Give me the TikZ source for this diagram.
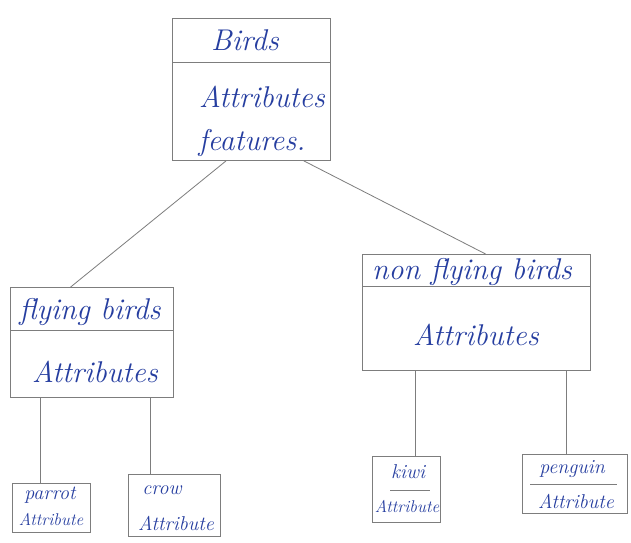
\documentclass[tikz,border=0pt]{standalone}
\usetikzlibrary{calc}
\definecolor{ink}{RGB}{38,62,160}
\definecolor{pencil}{RGB}{125,125,125}
\begin{document}
\begin{tikzpicture}[x=1pt,y=-1pt,
  box/.style={draw=pencil, line width=0.9pt, inner sep=0pt, anchor=north west},
  conn/.style={draw=pencil, line width=0.8pt},
  big/.style={text=ink, font=\fontsize{30}{34}\selectfont\itshape, inner sep=0pt},
  mid/.style={text=ink, font=\fontsize{30}{34}\selectfont\itshape, inner sep=0pt},
  small/.style={text=ink, font=\fontsize{20}{24}\selectfont\itshape, inner sep=0pt},
  tiny/.style={text=ink, font=\fontsize{17}{20}\selectfont\itshape, inner sep=0pt}]
\useasboundingbox[fill=white] (0,0) rectangle (631,542);

% top box
\node[box, minimum width=158pt, minimum height=142pt] (birds) at (172,18) {};
\draw[conn] (birds.west |- 0,62) -- (birds.east |- 0,62);
\node[big] (tb1) at (245,40) {Birds};
\node[big] (tb2) at (262,97) {Attributes};
\node[big] (tb3) at (252,143) {features.};

% flying birds
\node[box, minimum width=163pt, minimum height=110pt] (fly) at (10,287) {};
\draw[conn] (fly.west |- 0,330) -- (fly.east |- 0,330);
\node[mid] (tf1) at (90,312) {flying birds};
\node[mid] (tf2) at (95,372) {Attributes};

% non flying birds
\node[box, minimum width=228pt, minimum height=116pt] (non) at (362,254) {};
\draw[conn] (non.west |- 0,286) -- (non.east |- 0,286);
\node[mid] (tn1) at (472,272) {non flying birds};
\node[mid] (tn2) at (476,335) {Attributes};

% leaf boxes
\node[box, minimum width=78pt, minimum height=49pt] (parrot) at (12,483) {};
\node[small] (tp1) at (50,495) {parrot};
\node[tiny] (tp2) at (51,520) {Attribute};

\node[box, minimum width=92pt, minimum height=62pt] (crow) at (128,474) {};
\node[small] (tc1) at (162,490) {crow};
\node[small] (tc2) at (176,523) {Attribute};

\node[box, minimum width=68pt, minimum height=66pt] (kiwi) at (372,456) {};
\node[small] (tk1) at (408,472) {kiwi};
\draw[conn] (390,490) -- (430,490);
\node[tiny] (tk2) at (407,507) {Attribute};

\node[box, minimum width=105pt, minimum height=59pt] (peng) at (522,454) {};
\node[small] (tq1) at (572,469) {penguin};
\draw[conn] (530,484) -- (617,484);
\node[small] (tq2) at (576,501) {Attribute};

% connectors
\draw[conn] ($(birds.south west)!0.34!(birds.south east)$) -- ($(fly.north west)!0.37!(fly.north east)$);
\draw[conn] ($(birds.south west)!0.83!(birds.south east)$) -- ($(non.north west)!0.54!(non.north east)$);
\draw[conn] ([xshift=-11pt]parrot.north |- fly.south) -- ([xshift=-11pt]parrot.north);
\draw[conn] ([xshift=-24pt]crow.north |- fly.south) -- ([xshift=-24pt]crow.north);
\draw[conn] ([xshift=9pt]kiwi.north |- non.south) -- ([xshift=9pt]kiwi.north);
\draw[conn] ([xshift=-9pt]peng.north |- non.south) -- ([xshift=-9pt]peng.north);
\end{tikzpicture}
\end{document}
